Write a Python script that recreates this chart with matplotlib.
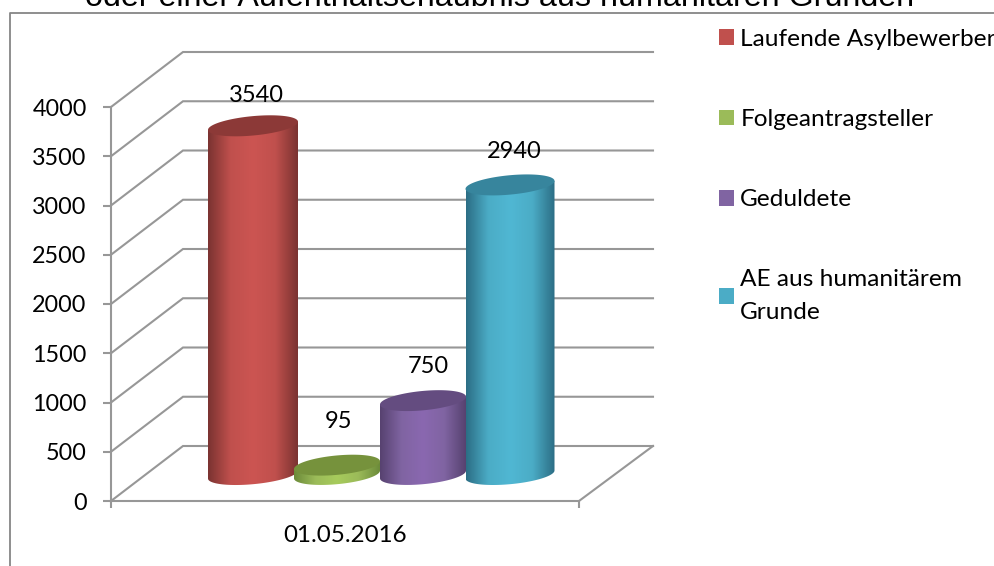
import numpy as np
import matplotlib
matplotlib.use("Agg")
import matplotlib.pyplot as plt
from matplotlib.colors import LinearSegmentedColormap
from matplotlib.patches import Polygon, Patch

title = "oder einer Aufenthaltserlaubnis aus humanitären Gründen"
series = ["Laufende Asylbewerber", "Folgeantragsteller", "Geduldete", "AE aus humanitärem\nGrunde"]
values = [3540, 95, 750, 2940]
category = "01.05.2016"
y_ticks = [0, 500, 1000, 1500, 2000, 2500, 3000, 3500, 4000]

base_colors = ["#C0504D", "#9BBB59", "#8064A2", "#4BACC6"]
light_colors = ["#CC5552", "#A7CB5C", "#8A68B0", "#50B7D3"]
edge_colors = ["#7B3331", "#6C8B3A", "#574270", "#2C6E85"]
top_colors = ["#8C3937", "#76923C", "#644C80", "#37859D"]

W, H = 995, 566
PX = 0.0985               # pixels per value unit
Y0 = 501.0                # pixel row of value 0 on the front plane


def v(py):
    return (Y0 - py) / PX


FONT = "Lato"
GRAY = "#979797"

fig = plt.figure(figsize=(W / 100, H / 100), dpi=100, facecolor="white")
ax = fig.add_axes([0, 0, 1, 1], facecolor="none")

# outer chart frame
ax.plot([10, 10, W + 5], [v(H + 5), v(13), v(13)], color="#868686", lw=1.3, zorder=1, clip_on=False)

# 3D walls and gridlines
DX, DY = 72, 55
for t in y_ticks:
    ax.plot([111, 111 + DX, 653], [t, t + DY / PX, t + DY / PX], color=GRAY, lw=1.5, zorder=2,
            solid_joinstyle="miter")
ax.plot([653, 579], [DY / PX, 0], color=GRAY, lw=1.5, zorder=2)

# cylinders
centers = [253, 337, 423, 510]
half_w = [45, 43, 43, 44.5]
BASE = v(474.5)
B, S = 9.7, 0.09
t_par = np.linspace(0, 2 * np.pi, 121)

for i, val in enumerate(values):
    cx, a = centers[i], half_w[i]
    top_v = BASE + val
    cmap = LinearSegmentedColormap.from_list(
        "c", [edge_colors[i], base_colors[i], light_colors[i], base_colors[i], edge_colors[i]])
    grad = np.linspace(0, 1, 200)[None, :]
    lower = np.linspace(np.pi, 0, 61)
    xs = cx + a * np.cos(lower)
    ys = BASE + (-B * np.sin(lower) + S * a * np.cos(lower)) / PX
    verts = [(cx - a, top_v - S * a / PX)] + list(zip(xs, ys)) + [(cx + a, top_v + S * a / PX)]
    body = Polygon(verts, closed=True, transform=ax.transData, facecolor="none", edgecolor="none")
    ax.add_patch(body)
    im = ax.imshow(grad, extent=[cx - a, cx + a, BASE - 20 / PX, top_v + 20 / PX], aspect="auto",
                   cmap=cmap, zorder=3 + i, interpolation="bilinear")
    im.set_clip_path(body)
    ex = cx + a * np.cos(t_par)
    ey = top_v + (B * np.sin(t_par) + S * a * np.cos(t_par)) / PX
    ax.fill(ex, ey, color=top_colors[i], lw=0, zorder=3 + i)

# data labels
label_dx = [3, 2, 5, 4]
label_dy = [30, 44, 34, 33]
for i, val in enumerate(values):
    ax.text(centers[i] + label_dx[i], BASE + val + label_dy[i] / PX, str(val), ha="center", va="center",
            fontsize=17, family=FONT, color="black", zorder=10)

# axes
for s in ["top", "right"]:
    ax.spines[s].set_visible(False)
for s in ["left", "bottom"]:
    ax.spines[s].set_color(GRAY)
    ax.spines[s].set_linewidth(1.5)
    ax.spines[s].set_zorder(2.5)
ax.spines["left"].set_position(("data", 111))
ax.spines["left"].set_bounds(0, 4000)
ax.spines["bottom"].set_position(("data", 0))
ax.spines["bottom"].set_bounds(111, 579)
ax.set_yticks(y_ticks)
ax.set_yticklabels([str(t) for t in y_ticks], fontsize=16.8, family=FONT)
ax.tick_params(axis="y", length=5.5, width=1.5, color=GRAY, pad=12, labelcolor="black")
ax.set_xticks([111, 579])
ax.set_xticklabels(["", ""])
ax.tick_params(axis="x", which="major", length=5, width=1.5, color=GRAY)
ax.set_xticks([345], minor=True)
ax.set_xticklabels([category], minor=True, fontsize=17.4, family=FONT)
ax.tick_params(axis="x", which="minor", length=0, pad=17, labelcolor="black")

ax.set_xlim(0, W)
ax.set_ylim(v(H), v(0))

ax.set_title(title, x=500 / W, y=1 - 6.5 / H, pad=0, fontsize=23.2, family="Liberation Sans", color="black")

# legend
handles = [Patch(facecolor=c, edgecolor="none") for c in base_colors]
leg = ax.legend(handles, series, loc="upper left", bbox_to_anchor=(719 / W, 1 - 29 / H), frameon=False,
                prop={"family": FONT, "size": 17.6}, labelspacing=2.42, handlelength=0.62, handleheight=0.62,
                handletextpad=0.25, borderpad=0, borderaxespad=0, labelcolor="black")
for txt in leg.get_texts():
    txt.set_linespacing(1.7)

fig.savefig("out.png", dpi=100)
